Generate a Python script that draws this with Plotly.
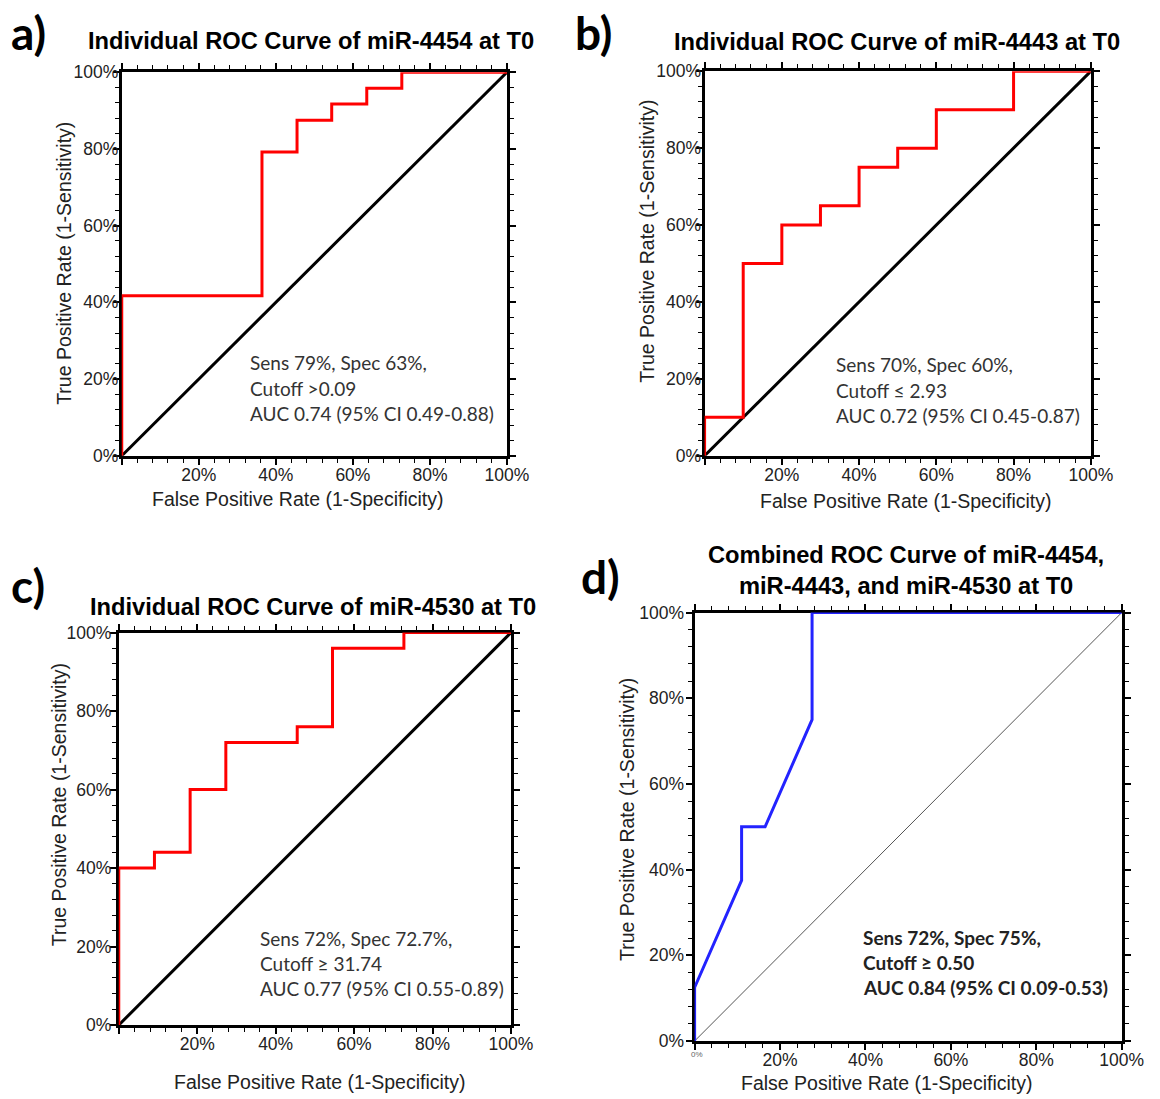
import plotly.graph_objects as go

W, H = 1160, 1099

# ---------------- data ----------------
a_fpr = [0, 0, 0.364, 0.455, 0.545, 0.636, 0.727, 1.0]
a_tpr = [0, 0.417, 0.792, 0.875, 0.917, 0.958, 1.0, 1.0]

b_fpr = [0, 0, 0.1, 0.2, 0.3, 0.4, 0.5, 0.6, 0.8, 1.0]
b_tpr = [0, 0.1, 0.5, 0.6, 0.65, 0.75, 0.8, 0.9, 1.0, 1.0]

c_fpr = [0, 0, 0.091, 0.182, 0.273, 0.455, 0.545, 0.727, 1.0]
c_tpr = [0, 0.40, 0.44, 0.60, 0.72, 0.76, 0.96, 1.0, 1.0]

d_fpr = [0, 0, 0.11, 0.11, 0.165, 0.275, 0.275, 1.0]
d_tpr = [0, 0.125, 0.375, 0.5, 0.5, 0.75, 1.0, 1.0]

ref_line = [0, 1]

titles = [
    "Individual ROC Curve of miR-4454 at T0",
    "Individual ROC Curve of miR-4443 at T0",
    "Individual ROC Curve of miR-4530 at T0",
    "Combined ROC Curve of miR-4454,<br>miR-4443, and miR-4530 at T0",
]
panel_tags = ["a)", "b)", "c)", "d)"]
stats = [
    ["Sens 79%, Spec 63%,", "Cutoff >0.09", "AUC 0.74 (95% CI 0.49-0.88)"],
    ["Sens 70%, Spec 60%,", "Cutoff \u2264 2.93", "AUC 0.72 (95% CI 0.45-0.87)"],
    ["Sens 72%, Spec 72.7%,", "Cutoff \u2265 31.74", "AUC 0.77 (95% CI 0.55-0.89)"],
    ["Sens 72%, Spec 75%,", "Cutoff \u2265 0.50", "AUC 0.84 (95% CI 0.09-0.53)"],
]
x_title = "False Positive Rate (1-Specificity)"
y_title = "True Positive Rate (1-Sensitivity)"
tick_vals = [0, 0.2, 0.4, 0.6, 0.8, 1.0]
x_tick_text = ["", "20%", "40%", "60%", "80%", "100%"]
y_tick_text = ["0%", "20%", "40%", "60%", "80%", "100%"]

# ---------------- layout geometry (target pixels) ----------------
boxes = [  # left, right, top, bottom
    (121, 507, 71, 455),
    (705, 1092, 70, 455),
    (118, 511, 632, 1025),
    (695, 1123, 612, 1041),
]
title_pos = [(311, 40), (898, 41), (313, 606), (907, 570)]
tag_pos = [(28, 31), (594, 31), (27, 585), (601, 576)]
xt_pos = [(298, 498), (907, 500), (320, 1082), (888, 1083)]
yt_pos = [(63, 262), (647, 240), (58, 804), (628, 819)]
stat_pos = [(247, 362), (835, 364), (258, 938), (862, 937)]
ylab_standoff = [-9, -9, -5, -2]

# rendering offset compensation (observed scale/offset of the captured page)
S, OX, OY = 0.983, -1.0, 8.7


def px(x):
    return ((x - OX) / S) / W


def py(y):
    return 1 - ((y - OY) / S) / H


fig = go.Figure()
curves = [(a_fpr, a_tpr, "#ff0000", "hv"), (b_fpr, b_tpr, "#ff0000", "hv"),
          (c_fpr, c_tpr, "#ff0000", "hv"), (d_fpr, d_tpr, "#2323ff", "linear")]

annotations = []
for i in range(4):
    sfx = "" if i == 0 else str(i + 1)
    xa, ya = "x" + sfx, "y" + sfx
    l, r, t, b = boxes[i]
    diag_w = 1 if i == 3 else 3
    diag_c = "#555555" if i == 3 else "black"
    fig.add_trace(go.Scatter(x=ref_line, y=ref_line, mode="lines",
                             line=dict(color=diag_c, width=diag_w),
                             xaxis=xa, yaxis=ya, cliponaxis=False, hoverinfo="skip"))
    fx, fy, col, shape = curves[i]
    fig.add_trace(go.Scatter(x=fx, y=fy, mode="lines",
                             line=dict(color=col, width=3, shape=shape),
                             xaxis=xa, yaxis=ya, cliponaxis=False))
    common = dict(range=[0, 1], showgrid=False, zeroline=False, showline=True,
                  linecolor="black", linewidth=3, mirror="allticks",
                  ticks="outside", ticklen=6, tickwidth=1.5, tickcolor="black",
                  tickvals=tick_vals, layer="below traces",
                  tickfont=dict(family="Liberation Sans, Arial", size=17.5, color="#222222"),
                  minor=dict(dtick=0.04, ticks="outside", ticklen=4, tickwidth=1, tickcolor="black"),
                  fixedrange=True)
    fig.update_layout(**{
        "xaxis" + sfx: dict(common, domain=[px(l), px(r)], anchor=ya,
                            ticktext=x_tick_text, ticklabelstandoff=-5),
        "yaxis" + sfx: dict(common, domain=[py(b), py(t)], anchor=xa,
                            ticktext=y_tick_text, ticklabelstandoff=ylab_standoff[i]),
    })

    # title
    tx, ty = title_pos[i]
    annotations.append(dict(text="<b>" + titles[i] + "</b>", x=px(tx), y=py(ty),
                            xref="paper", yref="paper", showarrow=False,
                            xanchor="center", yanchor="middle",
                            font=dict(family="Liberation Sans, Arial", size=23.7, color="black")))
    # panel tag
    gx, gy = tag_pos[i]
    annotations.append(dict(text="<b>" + panel_tags[i] + "</b>", x=px(gx), y=py(gy),
                            xref="paper", yref="paper", showarrow=False,
                            xanchor="center", yanchor="middle",
                            font=dict(family="Lato, Carlito, sans-serif", size=46, color="black")))
    # axis titles
    ax_, ay_ = xt_pos[i]
    annotations.append(dict(text=x_title, x=px(ax_), y=py(ay_), xref="paper", yref="paper",
                            showarrow=False, xanchor="center", yanchor="middle",
                            font=dict(family="Liberation Sans, Arial", size=19.5, color="#222222")))
    bx_, by_ = yt_pos[i]
    annotations.append(dict(text=y_title, x=px(bx_), y=py(by_), xref="paper", yref="paper",
                            showarrow=False, xanchor="center", yanchor="middle", textangle=-90,
                            font=dict(family="Liberation Sans, Arial", size=19.5, color="#222222")))
    # stats text
    sx, sy = stat_pos[i]
    for k, line in enumerate(stats[i]):
        txt = "<b>" + line + "</b>" if i == 3 else line
        annotations.append(dict(text=txt, x=px(sx), y=py(sy + 25.3 * k), xref="paper", yref="paper",
                                showarrow=False, xanchor="left", yanchor="middle",
                                font=dict(family="Lato, Carlito, sans-serif", size=19,
                                          color="#222222" if i == 3 else "#333333")))

# tiny 0% label under panel d
annotations.append(dict(text="0%", x=px(697), y=py(1054), xref="paper", yref="paper",
                        showarrow=False, xanchor="center", yanchor="middle",
                        font=dict(family="Liberation Sans, Arial", size=8, color="#666666")))

fig.update_layout(width=W, height=H, margin=dict(l=0, r=0, t=0, b=0),
                  paper_bgcolor="white", plot_bgcolor="white", showlegend=False,
                  annotations=annotations)

fig.write_html("out.html")
